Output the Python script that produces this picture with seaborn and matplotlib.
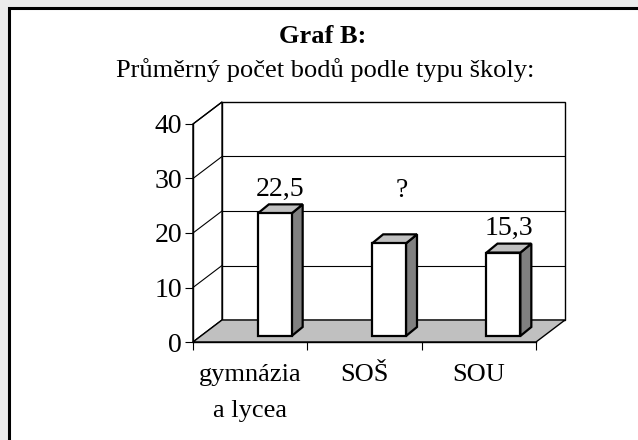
import matplotlib
matplotlib.use("Agg")
import matplotlib.pyplot as plt
from matplotlib.patches import Polygon, Rectangle
import seaborn as sns
import pandas as pd

# ---- data ----
categories = ["gymnázia\na lycea", "SOŠ", "SOU"]
values = [22.5, 17.0, 15.3]
value_labels = ["22,5", "?", "15,3"]
y_ticks = [0, 10, 20, 30, 40]
title = "Graf B:"
subtitle = "Průměrný počet bodů podle typu školy:"

# ---- style ----
sns.set_theme(style="white")
plt.rcParams["font.family"] = ["Liberation Serif", "DejaVu Serif"]
plt.rcParams["text.color"] = "black"
plt.rcParams["xtick.color"] = "black"
plt.rcParams["ytick.color"] = "black"
FS = 19

W, H = 638, 440
fig = plt.figure(figsize=(W / 100, H / 100), dpi=100, facecolor="#ebebeb")

# white framed panel (extends past right/bottom edges)
fig.patches.append(Rectangle((9 / W, -0.1), 1.2, (H - 8) / H + 0.1, transform=fig.transFigure,
                             facecolor="white", edgecolor="black", lw=2.2, zorder=-5))

x0px, x1px, ybot, ytop = 193, 536, 342, 124
ax = fig.add_axes([x0px / W, (H - ybot) / H, (x1px - x0px) / W, (ybot - ytop) / H])
ax.set_zorder(2)
ax.set_facecolor("none")
ax.set_xlim(-0.5, 2.5)
ax.set_ylim(0, 40)

px_x = (x1px - x0px) / 3.0
px_y = (ybot - ytop) / 40.0
DX, DY = 29 / px_x, 22 / px_y          # wall depth
bdx, bdy = 11 / px_x, 9 / px_y         # bar depth
lift = 6 / px_y                        # bar front face above front floor edge
shift = 0.215                          # bar x shift
bw = 0.296

kw = dict(clip_on=False)
# back wall
ax.add_patch(Polygon([(-0.5 + DX, DY), (2.5 + DX, DY), (2.5 + DX, 40 + DY), (-0.5 + DX, 40 + DY)],
                     closed=True, facecolor="white", edgecolor="black", lw=1.0, zorder=0.5, **kw))
# left wall
ax.add_patch(Polygon([(-0.5, 0), (-0.5 + DX, DY), (-0.5 + DX, 40 + DY), (-0.5, 40)],
                     closed=True, facecolor="white", edgecolor="black", lw=1.0, zorder=0.5, **kw))
for v in y_ticks[1:-1]:
    ax.plot([-0.5 + DX, 2.5 + DX], [v + DY, v + DY], color="black", lw=0.8, zorder=0.6, **kw)
for v in y_ticks[1:]:
    ax.plot([-0.5, -0.5 + DX], [v, v + DY], color="black", lw=0.8, zorder=0.6, **kw)
# floor
ax.add_patch(Polygon([(-0.5, 0), (2.5, 0), (2.5 + DX, DY), (-0.5 + DX, DY)],
                     closed=True, facecolor="#c0c0c0", edgecolor="black", lw=1.0, zorder=0.7, **kw))

# bars (front faces via seaborn)
df = pd.DataFrame({"pos": [i + shift for i in range(len(values))], "value": values})
sns.barplot(data=df, x="pos", y="value", native_scale=True, width=bw, color="white",
            edgecolor="black", linewidth=1.6, saturation=1, ax=ax, zorder=3, err_kws={"linewidth": 0})
ax.set_xlim(-0.5, 2.5)
ax.set_ylim(0, 40)

bars = [p for p in ax.patches if isinstance(p, Rectangle) and p.get_width() < 1]
tops = []
for p in bars:
    p.set_y(p.get_y() + lift)
    xa, xb = p.get_x(), p.get_x() + p.get_width()
    b, t = p.get_y(), p.get_y() + p.get_height()
    ax.add_patch(Polygon([(xb, b), (xb + bdx, b + bdy), (xb + bdx, t + bdy), (xb, t)], closed=True,
                         facecolor="#808080", edgecolor="black", lw=1.6, zorder=2.5, **kw))
    ax.add_patch(Polygon([(xa, t), (xb, t), (xb + bdx, t + bdy), (xa + bdx, t + bdy)], closed=True,
                         facecolor="#c0c0c0", edgecolor="black", lw=1.6, zorder=2.5, **kw))
    tops.append(((xa + xb) / 2 + bdx / 2, t + bdy))

for (cx, ty), lab in zip(tops, value_labels):
    y = ty + 1.6
    if lab == "?":
        y = max(t for _, t in tops) + 1.3
        cx += 0.06
    ax.text(cx, y, lab, ha="center", va="baseline", fontsize=FS + 1, zorder=4, color="black")

# axes decoration
for s in ["top", "right"]:
    ax.spines[s].set_visible(False)
for s in ["left", "bottom"]:
    ax.spines[s].set_visible(True)
    ax.spines[s].set_color("black")
    ax.spines[s].set_linewidth(1.0)
    ax.spines[s].set_zorder(1)

ax.set_yticks(y_ticks)
ax.set_yticklabels([str(v) for v in y_ticks], fontsize=FS + 1)
ax.tick_params(axis="y", direction="out", length=6, width=0.8, pad=2, colors="black", left=True)
ax.set_xticks([-0.5, 0.5, 1.5, 2.5])
ax.set_xticklabels(["", "", "", ""])
ax.set_xticks([0, 1, 2], minor=True)
ax.set_xticklabels(categories, minor=True, fontsize=FS, linespacing=1.8)
ax.tick_params(axis="x", which="major", direction="out", length=6, width=0.8, colors="black", bottom=True)
ax.tick_params(axis="x", which="minor", length=0, pad=16, colors="black")
ax.set_xlabel("")
ax.set_ylabel("")
ax.grid(False)

fig.text(323 / W, 1 - 43 / H, title, ha="center", va="baseline", fontsize=FS, fontweight="bold")
fig.text(325 / W, 1 - 77 / H, subtitle, ha="center", va="baseline", fontsize=FS)

fig.savefig("out.png", dpi=100, facecolor=fig.get_facecolor())
